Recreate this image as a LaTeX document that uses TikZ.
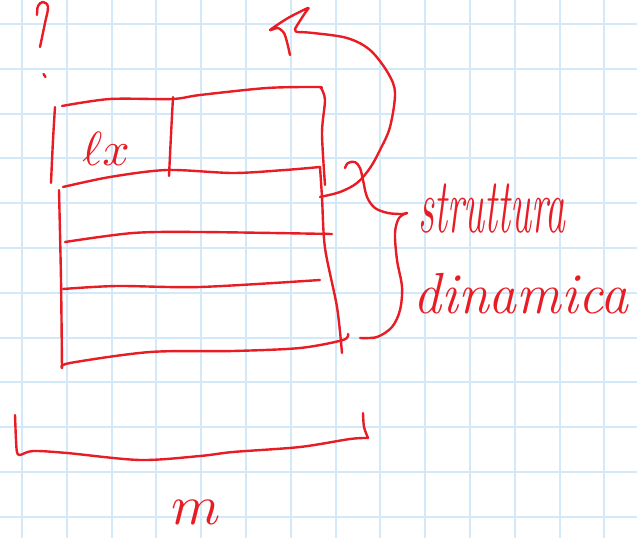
\documentclass[tikz,border=0pt]{standalone}
\usepackage{graphicx}
\definecolor{gridblue}{HTML}{D2E9FA}
\definecolor{ink}{HTML}{E81C24}
\begin{document}
\begin{tikzpicture}[x=1pt,y=-1pt,
  pen/.style={draw=ink,line width=2.4pt,line cap=round,line join=round},
  hand/.style={text=ink,inner sep=0pt,anchor=base}]
\useasboundingbox (0,0) rectangle (637,538);
\fill[white] (0,0) rectangle (637,538);
% grid
\foreach \k in {0,...,13} \draw[gridblue,line width=2pt] ({22+44.8*\k},0) -- ({22+44.8*\k},538);
\foreach \k in {0,...,11} \draw[gridblue,line width=2pt] (0,{24+44.8*\k}) -- (637,{24+44.8*\k});
% question mark
\draw[pen] plot[smooth,tension=0.6] coordinates {(37,15) (38,6) (43,2) (48,7) (45,23) (40,47)};
\draw[pen] (43.5,74) -- (45.5,77);
% top row
\draw[pen] plot[smooth,tension=0.5] coordinates {(62,106) (110,99) (172,99) (200,95) (267,88) (317,87) (321,88)};
\draw[pen] plot[smooth,tension=0.5] coordinates {(321,88) (325,100) (322,133) (325,185)};
\draw[pen] plot[smooth,tension=0.5] coordinates {(55,107) (53,140) (51,183)};
\draw[pen] plot[smooth,tension=0.5] coordinates {(173,97) (171,135) (169,176)};
\draw[pen] plot[smooth,tension=0.5] coordinates {(63,187) (110,177) (167,170) (233,173) (285,170) (320,167)};
\node[hand] (lx) at (106,165) {\scalebox{4.8}{$\ell x$}};
% lower box
\draw[pen] plot[smooth,tension=0.5] coordinates {(59,190) (61,280) (62,368)};
\draw[pen] plot[smooth,tension=0.5] coordinates {(320,167) (322,197) (325,248) (337,307) (342,353)};
\draw[pen] plot[smooth,tension=0.5] coordinates {(65,242) (133,233) (200,232) (332,234)};
\draw[pen] plot[smooth,tension=0.5] coordinates {(63,289) (117,286) (200,287) (320,280)};
\draw[pen] plot[smooth,tension=0.5] coordinates {(62,368) (70,363) (150,352) (233,351) (300,348) (343,340) (348,334)};
% arrow going back up
\draw[pen] plot[smooth,tension=0.55] coordinates {(320,197) (340,192) (357,183) (370,168) (380,150) (390,127) (395,93) (388,73) (370,50) (347,38) (313,33) (297,32)};
\draw[pen] plot[smooth,tension=0.4] coordinates {(297,32) (295,29) (305,13) (308,8) (288,18) (270,30) (278,28) (284,33) (287,42) (290,55)};
% brace
\draw[pen] plot[smooth,tension=0.55] coordinates {(345,168) (348,163) (355,162) (360,168) (363,180) (367,197) (375,208) (388,213) (402,214) (407,213)};
\draw[pen] plot[smooth,tension=0.55] coordinates {(407,213) (399,218) (395,233) (397,260) (402,287) (400,310) (392,327) (377,337) (360,338)};
% labels
\node[hand,font=\fontsize{78}{78}\selectfont\itshape] (s1) at (492,232) {\scalebox{0.51}[1]{struttura}};
\node[hand,font=\fontsize{58}{58}\selectfont\itshape] (s2) at (521,313) {\scalebox{0.96}[1]{dinamica}};
% bottom bracket
\draw[pen] plot[smooth,tension=0.5] coordinates {(15,415) (16,440) (17,452) (20,455) (33,451) (67,453) (140,460) (200,456) (233,452) (300,447) (350,439) (368,438)};
\draw[pen] plot[smooth,tension=0.5] coordinates {(368,438) (364,427) (363,413)};
\node[hand] (m) at (196,524) {\scalebox{5.6}{$m$}};
\end{tikzpicture}
\end{document}
